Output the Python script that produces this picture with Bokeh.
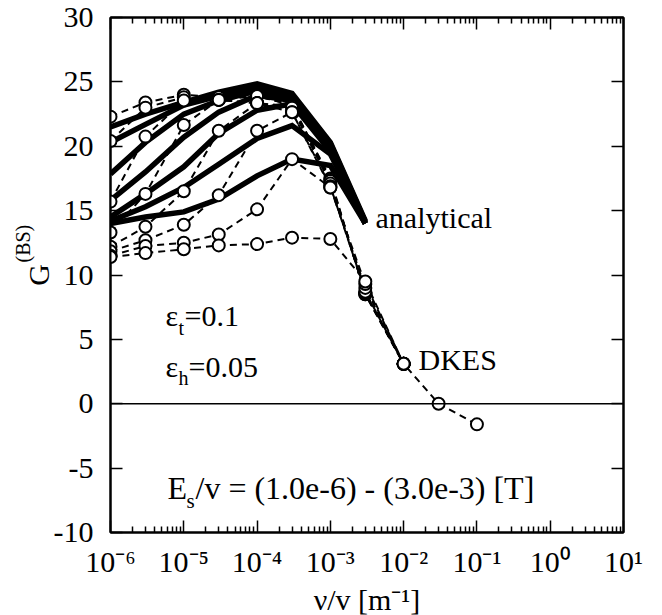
from bokeh.plotting import figure
from bokeh.models import Label, Span, LinearAxis, LogAxis, FixedTicker, Title
from bokeh.embed import file_html
from bokeh.resources import INLINE

# ---------------- data ----------------
nu_dkes = [1e-6, 3e-6, 1e-5, 3e-5, 1e-4, 3e-4, 1e-3, 3e-3, 1e-2, 3e-2, 1e-1]
dkes_1 = [22.3, 23.4, 24.0, 23.8, 23.9, 23.2, 17.5, 8.5, 3.1]
dkes_2 = [20.4, 23.0, 23.8, 23.6, 23.9, 23.2, 17.4, 8.5, 3.1]
dkes_3 = [15.7, 20.75, 23.55, 23.6, 23.35, 23.1, 17.3, 8.6, 3.1]
dkes_4 = [13.3, 16.3, 21.65, 23.6, 23.35, 23.0, 17.1, 8.6, 3.1]
dkes_5 = [12.2, 13.75, 16.5, 21.2, 23.35, 22.65, 16.9, 8.7, 3.1]
dkes_6 = [11.85, 12.7, 13.9, 16.2, 21.2, 22.65, 16.8, 9.0, 3.1]
dkes_7 = [11.5, 12.25, 12.5, 13.15, 15.1, 19.0, 16.8, 9.3, 3.1]
dkes_8 = [11.4, 11.7, 12.0, 12.3, 12.4, 12.9, 12.8, 9.5, 3.1, 0.0, -1.6]
dkes_all = [dkes_1, dkes_2, dkes_3, dkes_4, dkes_5, dkes_6, dkes_7, dkes_8]

nu_an = [1e-6, 3e-6, 1e-5, 3e-5, 1e-4, 3e-4, 1e-3, 3e-3]
an_1 = [21.5, 22.5, 23.4, 24.2, 24.85, 24.1, 20.3, 14.2]
an_2 = [20.3, 21.7, 23.2, 23.9, 24.6, 23.95, 20.2, 14.1]
an_3 = [17.85, 20.3, 22.5, 23.55, 24.3, 23.8, 20.0, 14.1]
an_4 = [15.8, 18.0, 20.7, 22.65, 23.95, 23.55, 19.8, 14.0]
an_5 = [14.5, 16.3, 18.4, 21.0, 22.8, 23.3, 19.6, 14.0]
an_6 = [14.2, 15.3, 16.8, 18.6, 20.6, 21.6, 19.4, 14.0]
an_7 = [14.0, 14.5, 14.9, 15.9, 17.7, 19.0, 18.5, 14.0]
an_all = [an_1, an_2, an_3, an_4, an_5, an_6, an_7]

x_exponents = [-6, -5, -4, -3, -2, -1, 0, 1]
y_ticks = [-10, -5, 0, 5, 10, 15, 20, 25, 30]

# ---------------- layout helpers ----------------
W, H = 662, 615
FL, FT, FW, FH = 110, 17, 513, 515   # frame position in page pixels


def xd(px):
    return 10 ** (-6 + 7 * (px - FL) / FW)


def yd(py):
    return 30 - 40 * (py - FT) / FH


FONT = "Liberation Serif"
FS = "30px"
FS_SUP = "20px"
SUP = str.maketrans("0123456789-", "⁰¹²³⁴⁵⁶⁷⁸⁹⁻")

p = figure(x_axis_type="log", x_range=(1e-6, 10), y_range=(-10, 30),
           frame_width=FW, frame_height=FH,
           min_border_left=FL, min_border_top=FT,
           min_border_right=W - FL - FW, min_border_bottom=H - FT - FH,
           output_backend="svg", toolbar_location=None)
p.xgrid.visible = False
p.ygrid.visible = False
p.outline_line_color = "black"
p.outline_line_width = 2
p.background_fill_color = "white"
p.border_fill_color = "white"

x_ticks = [10.0 ** e for e in x_exponents]
x_minor = [m * 10.0 ** e for e in x_exponents[:-1] for m in range(2, 10)]
xticker = FixedTicker(ticks=x_ticks, minor_ticks=x_minor)
yticker = FixedTicker(ticks=y_ticks, minor_ticks=[])


def style_axis(ax, labels):
    ax.axis_line_color = "black"
    ax.axis_line_width = 2
    ax.major_tick_in = 12
    ax.major_tick_out = 0
    ax.major_tick_line_width = 1.5
    ax.minor_tick_in = 6
    ax.minor_tick_out = 0
    ax.minor_tick_line_width = 1.5
    ax.major_label_text_font = FONT
    ax.major_label_text_font_size = FS
    ax.major_label_text_color = "black"
    ax.axis_label_text_font = FONT
    ax.axis_label_text_font_size = FS
    ax.axis_label_text_font_style = "normal"
    ax.axis_label_text_color = "black"
    if not labels:
        ax.major_label_text_color = None
        ax.major_label_text_font_size = "8px"


p.xaxis.ticker = xticker
style_axis(p.xaxis[0], True)
p.xaxis.major_label_overrides = {t: "10" + str(e).translate(SUP)
                                 for e, t in zip(x_exponents, x_ticks)}
p.xaxis.major_label_standoff = 12
p.xaxis.axis_label = "ν/v [m⁻¹]"
p.xaxis.axis_label_standoff = 2

p.yaxis.ticker = yticker
style_axis(p.yaxis[0], True)
p.yaxis.major_label_overrides = {v: str(v) for v in y_ticks}
p.yaxis.major_label_standoff = 17
p.yaxis.axis_label = "G"
p.yaxis.axis_label_standoff = -4

# superscript of the y-axis title as a side title, pulled in toward the axis
p.add_layout(Title(text="(BS)", text_font=FONT, text_font_size=FS_SUP,
                   text_font_style="normal", text_color="black",
                   align="left", offset=270, vertical_align="bottom",
                   standoff=-30), "left")

top = LogAxis(ticker=xticker)
style_axis(top, False)
p.add_layout(top, "above")
right = LinearAxis(ticker=yticker)
style_axis(right, False)
p.add_layout(right, "right")

p.add_layout(Span(location=0, dimension="width", line_color="black", line_width=1.5))

# analytical (thick solid)
for ys in an_all:
    p.line(nu_an, ys, line_color="black", line_width=5.5, line_join="miter")

# DKES (dashed + open circles)
for ys in dkes_all:
    p.line(nu_dkes[:len(ys)], ys, line_color="black", line_width=2, line_dash="7 5")
for ys in dkes_all:
    p.scatter(nu_dkes[:len(ys)], ys, marker="circle", size=12, fill_color="white",
              line_color="black", line_width=2)


def lab(text, px, py, size=FS, align="left"):
    p.add_layout(Label(x=xd(px), y=yd(py), text=text, text_font=FONT,
                       text_font_size=size, text_color="black", text_align=align,
                       text_baseline="alphabetic"))


# in-plot texts
lab("analytical", 375, 217)
lab("DKES", 418, 359)
lab("ε", 165, 315)
lab("t", 178, 327, size=FS_SUP)
lab("=0.1", 184, 315)
lab("ε", 165, 366)
lab("h", 178, 377, size=FS_SUP)
lab("=0.05", 188, 366)
lab("E", 167, 487, size="32px")
lab("s", 186, 500, size="21px")
lab("/v = (1.0e-6) - (3.0e-3) [T]", 195, 487, size="32px")

open("out.html", "w").write(file_html(p, INLINE))
